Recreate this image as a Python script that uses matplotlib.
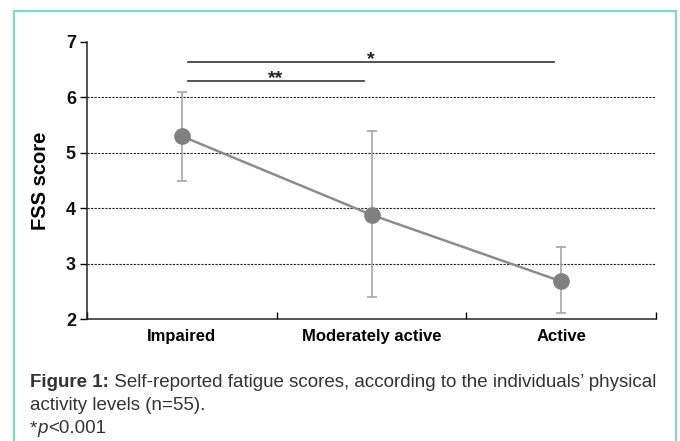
import matplotlib
matplotlib.use("Agg")
import matplotlib.pyplot as plt
from matplotlib.patches import Rectangle

plt.rcParams['font.family'] = ['Liberation Sans', 'DejaVu Sans']

# --- data ---
groups = ["Impaired", "Moderately active", "Active"]
fss_mean = [5.3, 3.88, 2.68]
err_low = [4.5, 2.4, 2.1]
err_high = [6.1, 5.4, 3.3]
yticks = [2, 3, 4, 5, 6, 7]

# significance brackets: start group, end group, height, label
sig_start = [0, 0]
sig_end = [2, 1]
sig_y = [6.63, 6.29]
sig_label = ["*", "**"]

W, H = 680, 441
fig = plt.figure(figsize=(W / 100, H / 100), dpi=100)

# teal frame
fig.patches.append(Rectangle((14 / W, -0.1), 662 / W, 1.1 - 11 / H,
                             transform=fig.transFigure, fill=False,
                             edgecolor="#7fd8c8", lw=1.6))

ax = fig.add_axes([87 / W, 1 - 319 / H, (656 - 87) / W, (319 - 42) / H])

xpos = [i + 0.5 for i in range(len(groups))]
yerr = [[m - lo for m, lo in zip(fss_mean, err_low)],
        [hi - m for m, hi in zip(fss_mean, err_high)]]

ax.errorbar(xpos, fss_mean, yerr=yerr, fmt="none", ecolor="#a6a6a6",
            elinewidth=1.2, capsize=3.5, capthick=1.2, zorder=3)
ax.plot(xpos, fss_mean, color="#8c8c8c", lw=1.8, marker="o",
        markersize=11, markerfacecolor="#808080",
        markeredgecolor="#808080", zorder=4)

for s, e, y, lab in zip(sig_start, sig_end, sig_y, sig_label):
    x0 = xpos[s] + 0.03
    x1 = xpos[e] - 0.04
    ax.plot([x0, x1], [y, y], color="#333333", lw=1.2, clip_on=False)
    ax.text((x0 + x1) / 2, y - 0.03, lab, ha="center", va="baseline",
            fontsize=14, fontweight="bold", color="#222222")

ax.set_xlim(0, 3)
ax.set_ylim(2, 7)
ax.set_yticks(yticks)
ax.set_xticks([0, 1, 2, 3])
ax.set_xticks(xpos, minor=True)
ax.set_xticklabels([])
ax.set_xticklabels(groups, minor=True, fontweight="bold", fontsize=12)
ax.tick_params(axis="x", which="minor", length=0, pad=7)
ax.tick_params(axis="x", which="major", length=5, direction="in", width=1)
ax.tick_params(axis="y", length=5, direction="out", width=1, pad=3,
               labelsize=13, labelcolor="#111111")

for v in yticks[1:-1]:
    ax.axhline(v, color="#222222", lw=0.8, ls=(0, (2, 1.2)), zorder=1)

for side in ["top", "right"]:
    ax.spines[side].set_visible(False)
for side in ["left", "bottom"]:
    ax.spines[side].set_color("#222222")
    ax.spines[side].set_linewidth(1.1)

ax.set_ylabel("FSS score", fontweight="bold", fontsize=14.5)
ax.yaxis.set_label_coords((40 - 87) / (656 - 87), 0.5)
ax.yaxis.label.set_va("center")

# caption
cap_color = "#333333"
fs = 13.5
t1 = fig.text(30 / W, 1 - 387 / H, "Figure 1:", fontweight="bold",
              fontsize=fs, color=cap_color, va="baseline")
ax.annotate(" Self-reported fatigue scores, according to the individuals\u2019 physical",
            xy=(1, 0), xycoords=t1, va="bottom", fontsize=fs, color=cap_color)
fig.text(30 / W, 1 - 410 / H, "activity levels (n=55).", fontsize=fs,
         color=cap_color, va="baseline")
t3 = fig.text(30 / W, 1 - 433 / H, "*", fontsize=fs, color=cap_color,
              va="baseline")
t4 = ax.annotate("p", xy=(1, 0), xycoords=t3, va="bottom", fontsize=fs,
                 style="italic", color=cap_color)
ax.annotate("<0.001", xy=(1, 0), xycoords=t4, va="bottom", fontsize=fs,
            color=cap_color)

fig.canvas.draw()
for tick in ax.yaxis.get_major_ticks():
    tick.label1.set_fontweight("bold")

fig.savefig("out.png", dpi=100)
